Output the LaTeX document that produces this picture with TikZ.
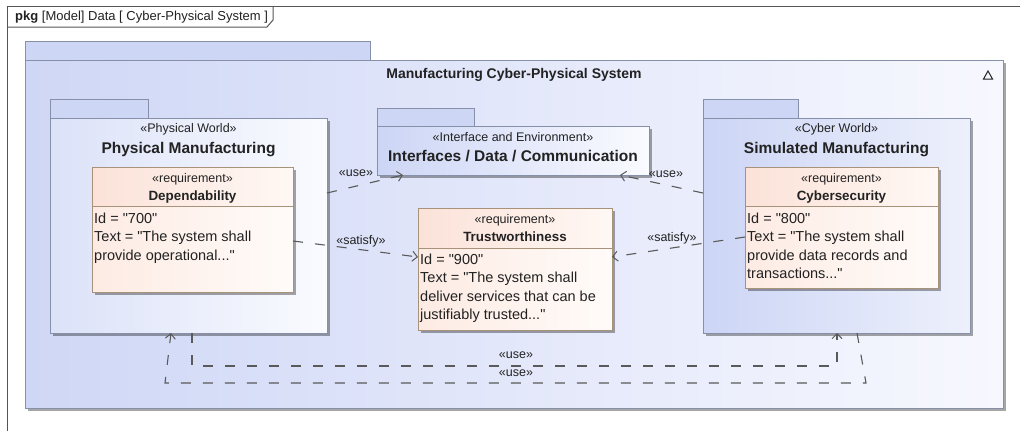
\documentclass[tikz,border=0pt]{standalone}
\usepackage{fontspec}
\setmainfont{Liberation Sans}[Ligatures=TeXOff]
\usetikzlibrary{arrows.meta,shadows}
\definecolor{frameC}{HTML}{555555}
\definecolor{pkgLine}{HTML}{8690A8}
\definecolor{pkgTab}{HTML}{CDD6F4}
\definecolor{pkgL}{HTML}{CCD5F5}
\definecolor{pkgR}{HTML}{FAFBFF}
\definecolor{bigL}{HTML}{CFD7F6}
\definecolor{bigR}{HTML}{F7F8FE}
\definecolor{reqLine}{HTML}{A8937A}
\definecolor{reqL}{HTML}{FBE2D8}
\definecolor{reqR}{HTML}{FFF8F4}
\definecolor{reqBL}{HTML}{FDEBE3}
\definecolor{reqBR}{HTML}{FFFBF9}
\definecolor{connC}{HTML}{5A5A5A}
\definecolor{txt}{HTML}{222222}
\tikzset{
 box/.style={anchor=north west, inner sep=0pt, outer sep=0pt, line width=1pt},
 shad/.style={drop shadow={shadow xshift=2.5pt, shadow yshift=-2.5pt, fill=black, opacity=0.35}},
 pkgtab/.style={box, draw=pkgLine, fill=pkgTab},
 pkgbody/.style={box, draw=pkgLine, left color=pkgL, right color=pkgR, shad},
 bigbody/.style={box, draw=pkgLine, left color=bigL, right color=bigR, shad},
 reqhead/.style={box, draw=reqLine, left color=reqL, right color=reqR, shad},
 reqbody/.style={box, draw=reqLine, left color=reqBL, right color=reqBR, shad},
 stereo/.style={anchor=base, inner sep=0pt, text=txt, font=\fontsize{12.5}{15}\selectfont},
 pname/.style={anchor=base, inner sep=0pt, text=txt, font=\fontsize{15.5}{18}\selectfont\bfseries},
 rname/.style={anchor=base, inner sep=0pt, text=txt, font=\fontsize{13.4}{16}\selectfont\bfseries},
 rtext/.style={anchor=base west, inner sep=0pt, text=txt, font=\fontsize{14.5}{18.5}\selectfont},
 lbl/.style={anchor=base, inner sep=0pt, text=txt, font=\fontsize{12.5}{15}\selectfont},
 dep/.style={draw=connC, line width=1.1pt, dash pattern=on 10pt off 12pt, -{Straight Barb[length=5pt,width=10pt,line width=1pt]}},
}
\begin{document}
\begin{tikzpicture}[x=1pt,y=1pt]
\useasboundingbox[fill=white] (0,0) rectangle (1020,-431);
% diagram frame
\draw[frameC, line width=1pt] (7,-431) -- (7,-6) -- (1020,-6);
\draw[frameC, line width=1pt] (7,-27) -- (267,-27) -- (273,-20) -- (273,-6);
\node[anchor=base west, inner sep=0pt, text=txt, font=\fontsize{13}{15}\selectfont] (hdr) at (15,-20) {\textbf{pkg} [Model] Data [ Cyber-Physical System ]};
% big package
\node[pkgtab, minimum width=345pt, minimum height=19pt] (bigt) at (25,-41) {};
\node[bigbody, minimum width=978pt, minimum height=348pt] (bigb) at (25,-60) {};
\node[pname, font=\fontsize{14}{17}\selectfont\bfseries] (bign) at (514,-78) {Manufacturing Cyber-Physical System};
\draw[txt, line width=1pt] (983.5,-79) -- (992.5,-79) -- (988,-71) -- cycle;
% Physical Manufacturing
\node[pkgtab, minimum width=98pt, minimum height=19pt] (pmt) at (50,-99) {};
\node[pkgbody, left color=pkgL!70!white, minimum width=277pt, minimum height=215pt] (pmb) at (50,-118) {};
\node[stereo] (pms) at (188.5,-132) {«Physical World»};
\node[pname] (pmn) at (188.5,-153) {Physical Manufacturing};
% Dependability
\node[reqhead, minimum width=201pt, minimum height=39pt] (deph) at (92,-167) {};
\node[reqbody, minimum width=201pt, minimum height=86pt] (depb) at (92,-206) {};
\node[stereo] (deps) at (192.5,-182) {«requirement»};
\node[rname] (depn) at (192.5,-200) {Dependability};
\node[rtext] (dep1) at (94,-223) {Id = "700"};
\node[rtext] (dep2) at (94,-241.5) {Text = "The system shall};
\node[rtext] (dep3) at (94,-260) {provide operational..."};
% Interfaces
\node[pkgtab, minimum width=97pt, minimum height=18pt] (ift) at (377,-108) {};
\node[pkgbody, minimum width=272pt, minimum height=49pt] (ifb) at (377,-126) {};
\node[stereo] (ifs) at (513,-141.5) {«Interface and Environment»};
\node[pname] (ifn) at (513,-161.5) {Interfaces / Data / Communication};
% Trustworthiness
\node[reqhead, minimum width=194pt, minimum height=40pt] (twh) at (418,-208) {};
\node[reqbody, minimum width=194pt, minimum height=82pt] (twb) at (418,-248) {};
\node[stereo] (tws) at (515,-223) {«requirement»};
\node[rname] (twn) at (515,-241.5) {Trustworthiness};
\node[rtext] (tw1) at (420,-264) {Id = "900"};
\node[rtext] (tw2) at (420,-282.5) {Text = "The system shall};
\node[rtext] (tw3) at (420,-301) {deliver services that can be};
\node[rtext] (tw4) at (420,-319.5) {justifiably trusted..."};
% Simulated Manufacturing
\node[pkgtab, minimum width=95pt, minimum height=19pt] (smt) at (703,-99) {};
\node[pkgbody, right color=pkgL!35!white, minimum width=267pt, minimum height=215pt] (smb) at (703,-118) {};
\node[stereo] (sms) at (836.5,-132) {«Cyber World»};
\node[pname] (smn) at (836.5,-153) {Simulated Manufacturing};
% Cybersecurity
\node[reqhead, minimum width=193pt, minimum height=39pt] (csh) at (745,-167) {};
\node[reqbody, minimum width=193pt, minimum height=82pt] (csb) at (745,-206) {};
\node[stereo] (css) at (841.5,-182) {«requirement»};
\node[rname] (csn) at (841.5,-200) {Cybersecurity};
\node[rtext] (cs1) at (747,-223) {Id = "800"};
\node[rtext] (cs2) at (747,-241.5) {Text = "The system shall};
\node[rtext] (cs3) at (747,-260) {provide data records and};
\node[rtext] (cs4) at (747,-278.5) {transactions..."};
% connectors
\draw[dep] ([yshift=32.5pt]pmb.east) -- ([xshift=-110pt]ifb.south);
\node[lbl] (u1) at (356,-176) {«use»};
\draw[dep] ([yshift=32.5pt]smb.west) -- ([xshift=107pt]ifb.south);
\node[lbl] (u2) at (666,-177) {«use»};
\draw[dep] ([yshift=8pt]depb.east) -- ([yshift=32pt]twb.west);
\node[lbl] (s1) at (361,-244) {«satisfy»};
\draw[dep] ([yshift=10pt]csb.west) -- ([yshift=32pt]twb.east);
\node[lbl] (s2) at (672,-241) {«satisfy»};
\coordinate (c1) at ([xshift=142pt,yshift=-33pt]pmb.south west);
\coordinate (c2) at ([xshift=134pt,yshift=-33pt]smb.south west);
\draw[dep] ([xshift=142pt]pmb.south west) -- (c1) -- (c2) -- ([xshift=134pt]smb.south west);
\node[lbl] (u3) at (516,-358) {«use»};
\coordinate (c3) at ([xshift=163pt,yshift=-50pt]smb.south west);
\coordinate (c4) at ([xshift=115pt,yshift=-50pt]pmb.south west);
\draw[dep] ([xshift=154pt]smb.south west) -- (c3) -- (c4) -- ([xshift=121pt]pmb.south west);
\node[lbl] (u4) at (516,-376) {«use»};
\end{tikzpicture}
\end{document}
